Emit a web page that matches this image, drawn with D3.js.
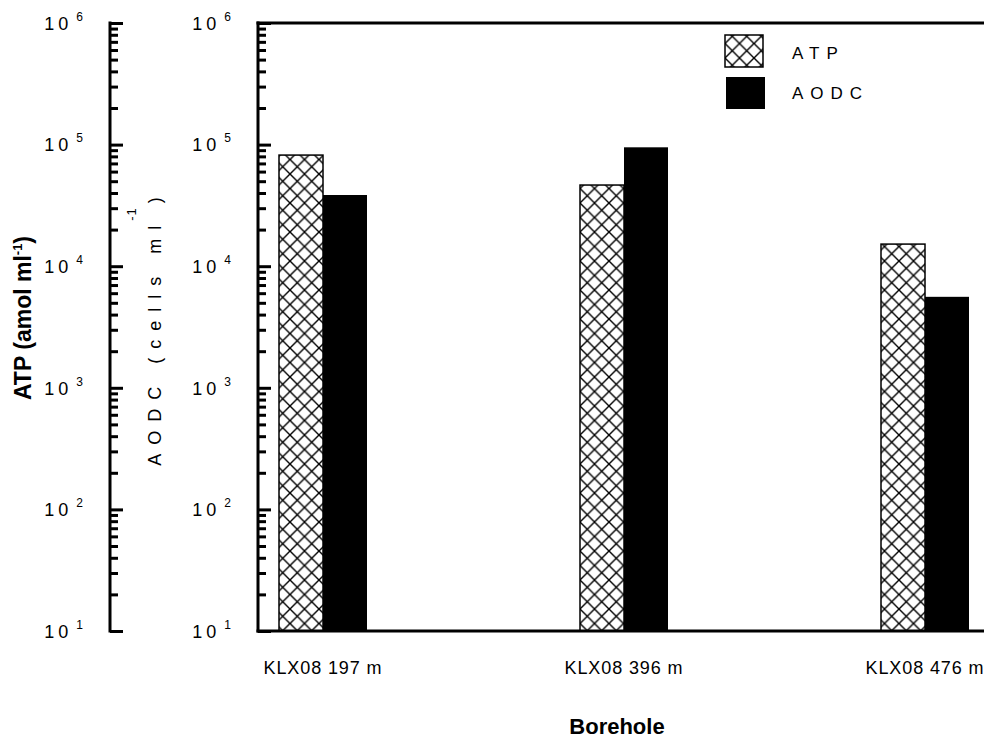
<!DOCTYPE html>
<html>
<head>
<meta charset="utf-8">
<script src="https://cdn.jsdelivr.net/npm/d3@7"></script>
<style>
  body { margin: 0; background: #fff; }
  text { font-family: "Liberation Sans", Arial, sans-serif; fill: #000; }
</style>
</head>
<body>
<div id="chart"></div>
<script>
// data
var boreholes = ["KLX08 197 m", "KLX08 396 m", "KLX08 476 m"];
var atpValues = [82000, 46500, 15200];   // amol/ml
var aodcValues = [38500, 95000, 5600];   // cells/ml
var majorTicks = [10, 100, 1000, 10000, 100000, 1000000];
var tickExponents = ["1", "2", "3", "4", "5", "6"];

var width = 984, height = 738;
var plotTop = 23, plotBottom = 631;
var axis1X = 110, axis2X = 258;
var barW = 44;

var svg = d3.select("#chart").append("svg")
    .attr("width", width)
    .attr("height", height);

// crosshatch fill for the ATP bars
var defs = svg.append("defs");
var pat = defs.append("pattern")
    .attr("id", "hatch")
    .attr("patternUnits", "userSpaceOnUse")
    .attr("width", 14.5)
    .attr("height", 14.5);
pat.append("rect").attr("width", 14.5).attr("height", 14.5).attr("fill", "#fff");
pat.append("path")
    .attr("d", "M0,0L14.5,14.5M0,14.5L14.5,0")
    .attr("stroke", "#000")
    .attr("stroke-width", 1.4);

var y = d3.scaleLog().domain([10, 1e6]).range([plotBottom, plotTop]);
var x = d3.scalePoint().domain(boreholes).range([323, 925]);

// minor ticks 2..9 in every decade
var minorTicks = [];
majorTicks.slice(0, -1).forEach(function(m) {
  for (var k = 2; k <= 9; k++) minorTicks.push(m * k);
});

function drawAxis(xPos) {
  var g = svg.append("g").attr("transform", `translate(${xPos},0)`);
  var minor = d3.axisLeft(y).tickValues(minorTicks).tickSize(-8).tickSizeOuter(0).tickFormat("");
  g.append("g").call(minor).call(s => s.select(".domain").remove());
  var major = d3.axisLeft(y).tickValues(majorTicks).tickSizeInner(-13).tickSizeOuter(0)
      .tickPadding(27).tickFormat("");
  g.append("g").attr("class", "major").call(major);
  g.selectAll("line").attr("stroke", "#000").attr("stroke-width", 3);
  g.selectAll(".domain").attr("stroke", "#000").attr("stroke-width", 3)
      .attr("d", `M0,${plotTop - 1.5}V${plotBottom + 1.5}`);
  // labels as 10 with superscript exponent
  g.select(".major").selectAll(".tick text").each(function(d, i) {
    var t = d3.select(this)
        .attr("font-size", 18)
        .attr("text-anchor", "end")
        .attr("dy", "0.35em");
    t.append("tspan").attr("letter-spacing", 4).text("10");
    t.append("tspan").attr("font-size", 12).attr("dy", "-0.75em").attr("dx", 4).text(tickExponents[i]);
  });
  return g;
}

drawAxis(axis1X);
drawAxis(axis2X);

// frame top and bottom of the plot (runs out of the right edge)
svg.append("line").attr("x1", axis2X - 1.5).attr("x2", width + 20)
    .attr("y1", plotTop).attr("y2", plotTop)
    .attr("stroke", "#000").attr("stroke-width", 3);

// bars
var groups = svg.append("g").selectAll("g")
    .data(boreholes)
    .enter().append("g");

groups.append("rect")
    .attr("x", d => x(d) - barW)
    .attr("y", (d, i) => y(atpValues[i]))
    .attr("width", barW)
    .attr("height", (d, i) => plotBottom - y(atpValues[i]))
    .attr("fill", "url(#hatch)")
    .attr("stroke", "#000")
    .attr("stroke-width", 1.5);

groups.append("rect")
    .attr("x", d => x(d))
    .attr("y", (d, i) => y(aodcValues[i]))
    .attr("width", barW)
    .attr("height", (d, i) => plotBottom - y(aodcValues[i]))
    .attr("fill", "#000");

svg.append("line").attr("x1", axis2X - 1.5).attr("x2", width + 20)
    .attr("y1", plotBottom).attr("y2", plotBottom)
    .attr("stroke", "#000").attr("stroke-width", 3);

// category labels
svg.append("g").selectAll("text")
    .data(boreholes)
    .enter().append("text")
    .attr("x", d => x(d))
    .attr("y", 674)
    .attr("text-anchor", "middle")
    .attr("font-size", 18)
    .attr("letter-spacing", 0.9)
    .text(d => d);

svg.append("text")
    .attr("x", 617).attr("y", 734)
    .attr("text-anchor", "middle")
    .attr("font-size", 22)
    .attr("font-weight", "bold")
    .text("Borehole");

// left title
var t1 = svg.append("text")
    .attr("transform", "translate(31,318) rotate(-90)")
    .attr("text-anchor", "middle")
    .attr("font-size", 23)
    .attr("font-weight", "bold");
t1.append("tspan").text("ATP (amol ml");
t1.append("tspan").attr("font-size", 13).attr("dy", -9).text("-1");
t1.append("tspan").attr("dy", 9).text(")");

// second title
var t2 = svg.append("text")
    .attr("transform", "translate(161,327) rotate(-90)")
    .attr("text-anchor", "middle")
    .attr("font-size", 18)
    .attr("letter-spacing", 9);
t2.append("tspan").text("AODC (cells ml");
t2.append("tspan").attr("font-size", 13).attr("letter-spacing", 1).attr("dy", -25).attr("dx", -4).text("-1");
t2.append("tspan").attr("dy", 25).attr("dx", 4).text(")");

// legend
var legend = svg.append("g");
legend.append("rect").attr("x", 725).attr("y", 35).attr("width", 38).attr("height", 32)
    .attr("fill", "url(#hatch)").attr("stroke", "#000").attr("stroke-width", 1.5);
legend.append("rect").attr("x", 726).attr("y", 77).attr("width", 39).attr("height", 32)
    .attr("fill", "#000");
legend.append("text").attr("x", 792).attr("y", 59).attr("font-size", 17)
    .attr("letter-spacing", 7).text("ATP");
legend.append("text").attr("x", 792).attr("y", 99).attr("font-size", 17)
    .attr("letter-spacing", 7).text("AODC");
</script>
</body>
</html>
